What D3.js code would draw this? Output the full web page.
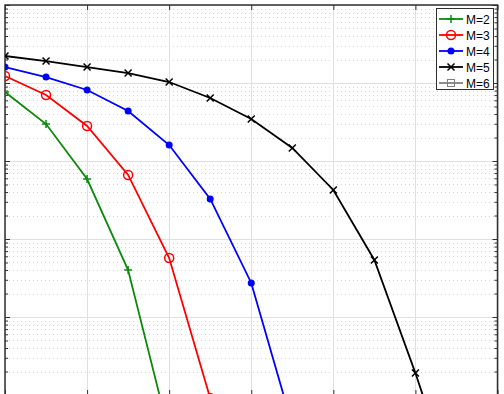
<!DOCTYPE html>
<html><head><meta charset="utf-8">
<script src="https://cdn.jsdelivr.net/npm/d3@7"></script>
<style>body{margin:0;background:#fff;}svg{display:block;font-family:"Liberation Sans",Arial,sans-serif;}</style>
</head><body><svg id="c" width="504" height="394"></svg>
<script>
// Data (x = SNR steps, y = error rate, log scale)
const xM2 = [0,1,2,3,4];
const yM2 = [0.0767,0.0298,0.00587,4.0e-4,3.2e-6];
const xM3 = [0,1,2,3,4,5];
const yM3 = [0.123,0.0702,0.0281,0.00662,5.7e-4,9.1e-6];
const xM4 = [0,1,2,3,4,5,6,7];
const yM4 = [0.160,0.119,0.0813,0.0438,0.0160,0.00326,2.73e-4,4.1e-6];
const xM5 = [0,1,2,3,4,5,6,7,8,9,10,11];
const yM5 = [0.222,0.191,0.160,0.134,0.103,0.0642,0.0345,0.0147,0.00425,5.38e-4,1.91e-5,5.1e-7];
const xM6 = [0,1,2,3,4,5,6,7,8,9,10,11,12];
const yM6 = [2e-6,1e-6,5e-7,2e-7,1e-7,5e-8,2e-8,1e-8,5e-9,2e-9,1e-9,5e-10,2e-10];
const seriesNames = ["M=2","M=3","M=4","M=5","M=6"];
const xTicks = [0,2,4,6,8,10,12];
const yDecades = [1,1e-1,1e-2,1e-3,1e-4,1e-5];

const svg = d3.select("#c");
const L=5, T=5, R=497.5, B=395;
const x = d3.scaleLinear().domain([0,12]).range([L,R]);
const y = d3.scaleLog().domain([1e-5,1]).range([B,T]);

svg.append("defs").append("clipPath").attr("id","clip")
  .append("rect").attr("x",L).attr("y",T).attr("width",R-L).attr("height",B-T);

// minor grid (dotted)
const minors=[];
for(let e=-5;e<0;e++){for(let k=2;k<=9;k++)minors.push(k*Math.pow(10,e));}
const g = svg.append("g");
g.selectAll(".mn").data(minors).enter().append("line")
  .attr("x1",L).attr("x2",R).attr("y1",d=>Math.round(y(d))+0.5).attr("y2",d=>Math.round(y(d))+0.5)
  .attr("stroke","#d4d4d4").attr("stroke-width",1).attr("stroke-dasharray","1,3");
g.selectAll(".mj").data(yDecades).enter().append("line")
  .attr("x1",L).attr("x2",R).attr("y1",d=>Math.round(y(d))+0.5).attr("y2",d=>Math.round(y(d))+0.5)
  .attr("stroke","#e0e0e0").attr("stroke-width",1);
g.selectAll(".vx").data(xTicks).enter().append("line")
  .attr("x1",d=>Math.round(x(d))+0.5).attr("x2",d=>Math.round(x(d))+0.5).attr("y1",T).attr("y2",B)
  .attr("stroke","#e0e0e0").attr("stroke-width",1);

// axes with inward ticks
const axCol="#303030";
const axL = d3.axisLeft(y).tickValues(yDecades).tickSize(-5).tickFormat("");
const axR = d3.axisRight(y).tickValues(yDecades).tickSize(-5).tickFormat("");
const axT = d3.axisTop(x).tickValues(xTicks).tickSize(-5).tickFormat("");
const axB = d3.axisBottom(x).tickValues(xTicks).tickSize(-5).tickFormat("");
const axLm = d3.axisLeft(y).tickValues(minors).tickSize(-3).tickFormat("");
const axRm = d3.axisRight(y).tickValues(minors).tickSize(-3).tickFormat("");
[[axL,`translate(${L},0)`],[axLm,`translate(${L},0)`],[axR,`translate(${R},0)`],[axRm,`translate(${R},0)`],[axT,`translate(0,${T})`],[axB,`translate(0,${B})`]]
 .forEach(([a,t])=>{const s=svg.append("g").attr("transform",t).call(a);
   s.selectAll("line").attr("stroke",axCol);s.select(".domain").remove();});
svg.append("rect").attr("x",L).attr("y",T).attr("width",R-L).attr("height",B-T)
  .attr("fill","none").attr("stroke",axCol).attr("stroke-width",1.5);

const colors = ["#0b8a0b","#ff0000","#0000ff","#000000","#808080"];
const xs=[xM2,xM3,xM4,xM5,xM6], ys=[yM2,yM3,yM4,yM5,yM6];
const line = d3.line().x(d=>x(d[0])).y(d=>y(d[1]));

function marker(sel,i,c){
  if(i===0){sel.append("path").attr("d","M-4,0H4M0,-4V4").attr("stroke",c).attr("stroke-width",1.5).attr("fill","none");}
  else if(i===1){sel.append("circle").attr("r",4.5).attr("stroke",c).attr("stroke-width",1.5).attr("fill","none");}
  else if(i===2){sel.append("circle").attr("r",3.5).attr("fill",c);}
  else if(i===3){sel.append("path").attr("d","M-3.5,-3.5L3.5,3.5M-3.5,3.5L3.5,-3.5").attr("stroke",c).attr("stroke-width",1.5);}
  else {sel.append("rect").attr("x",-3.5).attr("y",-3.5).attr("width",7).attr("height",7).attr("stroke",c).attr("stroke-width",1).attr("fill","none");}
}
const plot = svg.append("g").attr("clip-path","url(#clip)");
xs.forEach((xv,i)=>{
  const pts = xv.map((v,j)=>[v,ys[i][j]]);
  plot.append("path").datum(pts).attr("d",line).attr("fill","none").attr("stroke",colors[i]).attr("stroke-width",1.8);
  pts.forEach(p=>{marker(plot.append("g").attr("transform",`translate(${x(p[0])},${y(p[1])})`),i,colors[i]);});
});

// legend
const lg = svg.append("g");
lg.append("rect").attr("x",436.5).attr("y",8.5).attr("width",57).attr("height",81)
  .attr("fill","#fff").attr("stroke",axCol).attr("stroke-width",1);
seriesNames.forEach((n,i)=>{
  const yy = 19 + i*16;
  lg.append("line").attr("x1",439).attr("x2",463).attr("y1",yy).attr("y2",yy).attr("stroke",colors[i]).attr("stroke-width",1.8);
  marker(lg.append("g").attr("transform",`translate(451,${yy})`),i,colors[i]);
  lg.append("text").attr("x",466).attr("y",yy+4.5).attr("font-size",12).attr("fill","#000").text(n);
});
</script></body></html>
